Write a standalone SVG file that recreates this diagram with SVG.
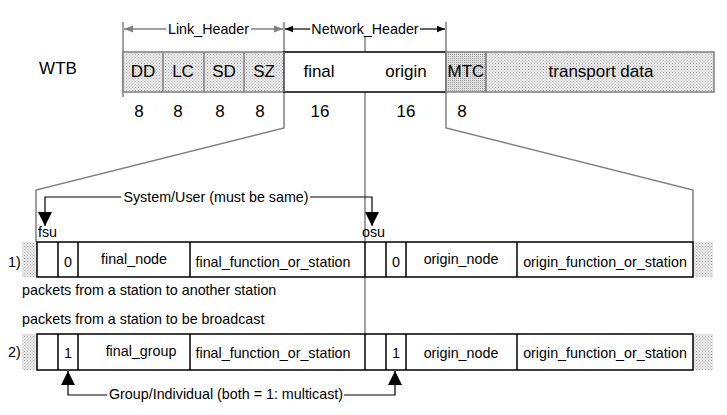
<svg xmlns="http://www.w3.org/2000/svg" width="727" height="415" viewBox="0 0 727 415">
<defs>
<pattern id="dots" width="3" height="3" patternUnits="userSpaceOnUse"><rect width="3" height="3" fill="#ececec"/><rect width="1" height="1" fill="#a8a8a8"/><rect x="1.5" y="1.5" width="1" height="1" fill="#b8b8b8"/></pattern>
<pattern id="dots2" width="2" height="2" patternUnits="userSpaceOnUse"><rect width="2" height="2" fill="#e0e0e0"/><rect width="1" height="1" fill="#9a9a9a"/></pattern>
<marker id="ga" viewBox="0 0 10 10" refX="10" refY="5" markerWidth="14" markerHeight="9" markerUnits="userSpaceOnUse" orient="auto"><path d="M0,1 L10,5 L0,9 Z" fill="#808080"/></marker>
<marker id="ba" viewBox="0 0 10 10" refX="10" refY="5" markerWidth="12" markerHeight="8" markerUnits="userSpaceOnUse" orient="auto"><path d="M0,1 L10,5 L0,9 Z" fill="#000"/></marker>
<marker id="bb" viewBox="0 0 10 10" refX="10" refY="5" markerWidth="14" markerHeight="14" markerUnits="userSpaceOnUse" orient="auto"><path d="M0,0 L10,5 L0,10 Z" fill="#000"/></marker>
</defs>
<style>
text{font-family:"Liberation Sans",Arial,sans-serif;fill:#000}
.t17{font-size:17px}
.t14{font-size:14.3px}
.c{text-anchor:middle}
.g{stroke:#808080;stroke-width:1.5;fill:none}
.k{stroke:#000;stroke-width:1.5;fill:none}
.cell{fill:#fff;stroke:#000;stroke-width:1.5}
</style>
<rect width="727" height="415" fill="#fff"/>

<g id="connectors">
<line class="g" x1="123" y1="22" x2="123" y2="97"/>
<path class="g" d="M284,22 V128 L36,190 V243"/>
<path class="g" d="M446,22 V128 L693,190 V243"/>
<line class="g" x1="365" y1="36" x2="365" y2="52"/>
<line class="g" x1="365" y1="92" x2="365" y2="334"/>
<line class="g" x1="166" y1="29" x2="124" y2="29" marker-end="url(#ga)"/>
<line class="g" x1="251" y1="29" x2="283" y2="29" marker-end="url(#ga)"/>
<line x1="310" y1="29" x2="285" y2="29" stroke="#000" stroke-width="1.2" marker-end="url(#ba)"/>
<line x1="420" y1="29" x2="445" y2="29" stroke="#000" stroke-width="1.2" marker-end="url(#ba)"/>
<path d="M121,197 H45 V226" fill="none" stroke="#000" stroke-width="1.2" marker-end="url(#bb)"/>
<path d="M310,197 H372 V226" fill="none" stroke="#000" stroke-width="1.2" marker-end="url(#bb)"/>
<path d="M107,395 H68 V371" fill="none" stroke="#000" stroke-width="1.2" marker-end="url(#bb)"/>
<path d="M344,395 H395 V371" fill="none" stroke="#000" stroke-width="1.2" marker-end="url(#bb)"/>
</g>

<g id="labels">
<text class="t14 c" x="208.5" y="34">Link_Header</text>
<text class="t14 c" x="365" y="34">Network_Header</text>
<text class="t17 c" x="58" y="74">WTB</text>
<text class="t14 c" x="216" y="202">System/User (must be same)</text>
<text class="t14 c" x="226" y="399">Group/Individual (both = 1: multicast)</text>
<text class="t14" x="38" y="237">fsu</text>
<text class="t14" x="362" y="237">osu</text>
</g>

<g id="wtb-frame">
<rect x="123" y="52" width="161" height="40" fill="url(#dots)" stroke="#808080" stroke-width="1.5"/>
<line class="g" x1="163" y1="52" x2="163" y2="92"/>
<line class="g" x1="204" y1="52" x2="204" y2="92"/>
<line class="g" x1="244" y1="52" x2="244" y2="92"/>
<rect x="284" y="52" width="162" height="40" fill="#fff" stroke="#000" stroke-width="1.5"/>
<rect x="446" y="52" width="40" height="40" fill="url(#dots2)" stroke="#808080" stroke-width="1.5"/>
<rect x="486" y="52" width="228" height="40" fill="url(#dots)" stroke="#808080" stroke-width="1.5"/>
<line class="g" x1="284" y1="52" x2="284" y2="92"/>
<line class="g" x1="446" y1="52" x2="446" y2="92"/>
<text class="t17 c" x="143" y="77">DD</text>
<text class="t17 c" x="183" y="77">LC</text>
<text class="t17 c" x="224" y="77">SD</text>
<text class="t17 c" x="264" y="77">SZ</text>
<text class="t17 c" x="319" y="77">final</text>
<text class="t17 c" x="406" y="77">origin</text>
<text class="t17 c" x="466" y="77">MTC</text>
<text class="t17 c" x="601" y="77">transport data</text>
<text class="t17 c" x="139" y="117">8</text>
<text class="t17 c" x="178" y="117">8</text>
<text class="t17 c" x="220" y="117">8</text>
<text class="t17 c" x="260" y="117">8</text>
<text class="t17 c" x="320" y="117">16</text>
<text class="t17 c" x="406" y="117">16</text>
<text class="t17 c" x="462" y="117">8</text>
</g>

<g id="row1">
<text class="t14" x="8" y="267">1)</text>
<rect x="22" y="242" width="15" height="35" fill="url(#dots)"/>
<rect x="693" y="242" width="20" height="35" fill="url(#dots)"/>
<rect class="cell" x="37" y="242" width="656" height="35"/>
<line class="k" x1="58" y1="242" x2="58" y2="277"/>
<line class="k" x1="78" y1="242" x2="78" y2="277"/>
<line class="k" x1="190" y1="242" x2="190" y2="277"/>
<line class="k" x1="365" y1="242" x2="365" y2="277"/>
<line class="k" x1="386" y1="242" x2="386" y2="277"/>
<line class="k" x1="406" y1="242" x2="406" y2="277"/>
<line class="k" x1="517" y1="242" x2="517" y2="277"/>
<text class="t14 c" x="68" y="267">0</text>
<text class="t14 c" x="134" y="264">final_node</text>
<text class="t14 c" x="273" y="267">final_function_or_station</text>
<text class="t14 c" x="396" y="267">0</text>
<text class="t14 c" x="461" y="264">origin_node</text>
<text class="t14 c" x="605" y="267">origin_function_or_station</text>
<text class="t14" x="22" y="295">packets from a station to another station</text>
</g>

<g id="row2">
<text class="t14" x="22" y="324">packets from a station to be broadcast</text>
<text class="t14" x="8" y="357">2)</text>
<rect x="22" y="334" width="15" height="36" fill="url(#dots)"/>
<rect x="693" y="334" width="20" height="36" fill="url(#dots)"/>
<rect class="cell" x="37" y="334" width="656" height="36"/>
<line class="k" x1="58" y1="334" x2="58" y2="370"/>
<line class="k" x1="78" y1="334" x2="78" y2="370"/>
<line class="k" x1="190" y1="334" x2="190" y2="370"/>
<line class="k" x1="365" y1="334" x2="365" y2="370"/>
<line class="k" x1="386" y1="334" x2="386" y2="370"/>
<line class="k" x1="406" y1="334" x2="406" y2="370"/>
<line class="k" x1="517" y1="334" x2="517" y2="370"/>
<text class="t14 c" x="68" y="358">1</text>
<text class="t14 c" x="141" y="356">final_group</text>
<text class="t14 c" x="273" y="358">final_function_or_station</text>
<text class="t14 c" x="396" y="358">1</text>
<text class="t14 c" x="461" y="358">origin_node</text>
<text class="t14 c" x="605" y="358">origin_function_or_station</text>
</g>
</svg>
